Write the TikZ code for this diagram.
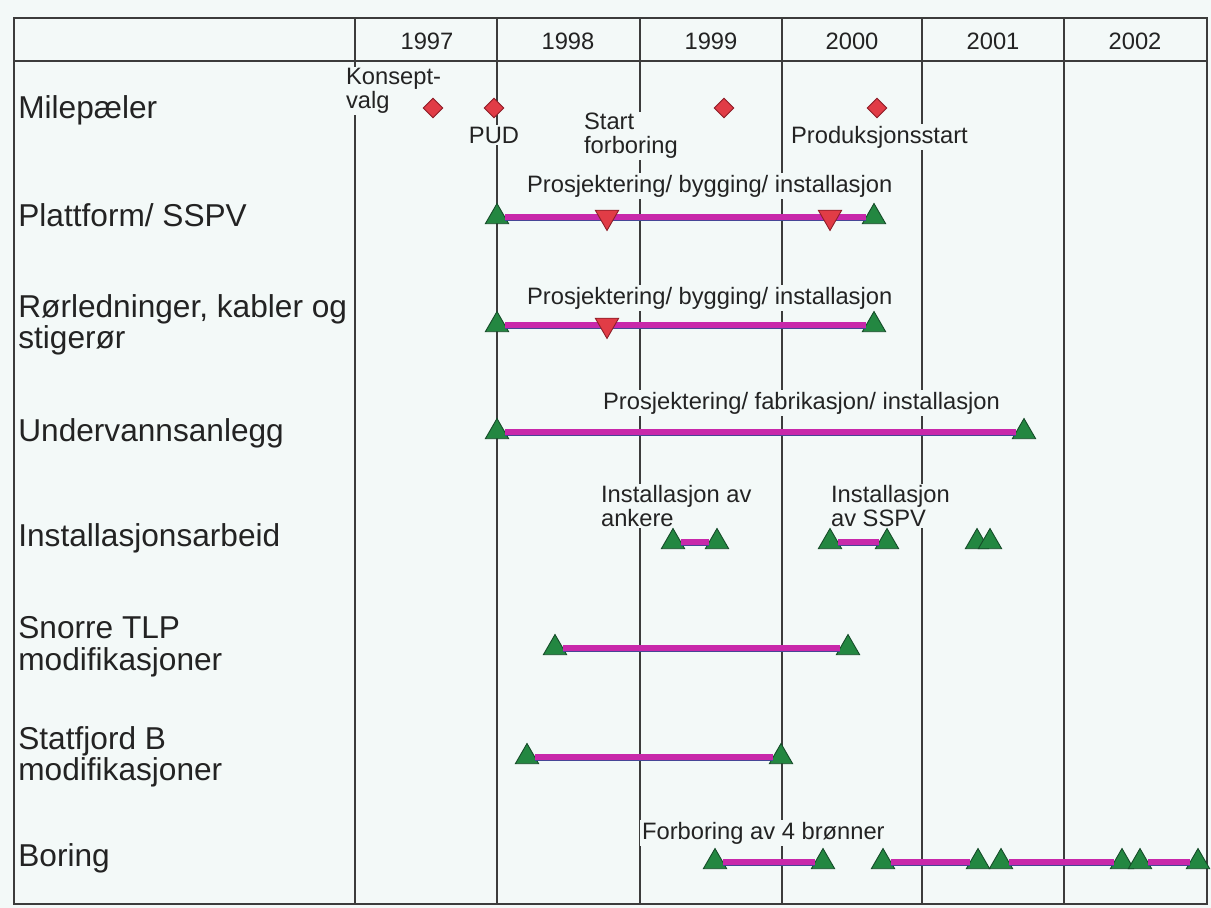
\documentclass[tikz,border=0pt]{standalone}
\usepackage{fontspec}
\setmainfont{Liberation Sans}
\usetikzlibrary{shapes.geometric}
\definecolor{papir}{RGB}{243,249,248}
\definecolor{linje}{RGB}{60,60,60}
\definecolor{tekst}{RGB}{35,35,35}
\definecolor{gronn}{RGB}{35,135,65}
\definecolor{gronnmork}{RGB}{20,75,40}
\definecolor{roed}{RGB}{225,60,70}
\definecolor{roedmork}{RGB}{140,30,40}
\definecolor{lilla}{RGB}{200,40,170}
\definecolor{skygge}{RGB}{70,70,150}

\begin{document}
\begin{tikzpicture}[x=0.02cm, y=-0.02cm,
		ramme/.style={draw=linje, line width=0.8pt},
		rad/.style={anchor=west, align=left, inner sep=0pt, text=tekst, font=\fontsize{18}{18}\selectfont},
		liten/.style={inner sep=1pt, fill=papir, text=tekst, font=\fontsize{13.5}{13.5}\selectfont},
		opp/.style={regular polygon, regular polygon sides=3, minimum size=0.54cm, inner sep=0pt, draw=gronnmork, fill=gronn, line width=0.5pt},
		ned/.style={opp, shape border rotate=180, draw=roedmork, fill=roed},
		mile/.style={diamond, minimum width=0.4cm, minimum height=0.4cm, inner sep=0pt, draw=roedmork, fill=roed, line width=0.5pt},
		aktivitet/.style={draw=lilla, line width=3pt, preaction={draw=skygge, line width=1pt, transform canvas={yshift=-1.6pt}}}]
		\fill[papir] (0,0) rectangle (1211,908);
		\draw[ramme] (14,18) rectangle (1207,904);
		\draw[ramme] (14,61) -- (1207,61);
		\foreach \x in {355,497,640,782,922,1064}
			\draw[ramme] (\x,18) -- (\x,904);
		\foreach \aar/\x in {1997/427,1998/568,1999/711,2000/852,2001/993,2002/1135}
			\node[liten] (aar\aar) at (\x,41) {\aar};
		\node[rad] (milepaeler) at (18,110) {Milepæler};
		\node[rad] (plattform) at (18,215) {Plattform/ SSPV};
		\node[rad] (rorledninger) at (18,325) {Rørledninger, kabler og\\stigerør};
		\node[rad] (undervann) at (18,433) {Undervannsanlegg};
		\node[rad] (installasjon) at (18,538) {Installasjonsarbeid};
		\node[rad] (snorre) at (18,647) {Snorre TLP\\modifikasjoner};
		\node[rad] (statfjord) at (18,757) {Statfjord B\\modifikasjoner};
		\node[rad] (boring) at (18,858) {Boring};
		\node[liten, anchor=west, align=left] (konseptlinha) at (344,91) {Konsept-\\valg};
		\node[mile] (konsept) at (433,108) {};
		\node[mile] (pud) at (494,108) {};
		\node[liten] (pudlinha) at (494,135) {PUD};
		\node[mile] (startforb) at (724,108) {};
		\node[liten, anchor=west, align=left] (startforblinha) at (582,136) {Start\\forboring};
		\node[mile] (prodstart) at (877,108) {};
		\node[liten, anchor=west] (prodstartlinha) at (789,137) {Produksjonsstart};
		\node[liten, anchor=west] (platlinha) at (525,186) {Prosjektering/ bygging/ installasjon};
		\node[opp] (plat1) at (497,217) {};
		\node[opp] (plat2) at (874,217) {};
		\draw[aktivitet] (plat1) -- (plat2);
		\node[ned] (plat3) at (607,217) {};
		\node[ned] (plat4) at (830,217) {};
		\node[liten, anchor=west] (rorlinha) at (525,298) {Prosjektering/ bygging/ installasjon};
		\node[opp] (ror1) at (497,325) {};
		\node[opp] (ror2) at (874,325) {};
		\draw[aktivitet] (ror1) -- (ror2);
		\node[ned] (ror3) at (607,325) {};
		\node[liten, anchor=west] (uvlinha) at (601,403) {Prosjektering/ fabrikasjon/ installasjon};
		\node[opp] (uv1) at (497,432) {};
		\node[opp] (uv2) at (1024,432) {};
		\draw[aktivitet] (uv1) -- (uv2);
		\node[liten, anchor=west, align=left] (ankerlinha) at (599,506) {Installasjon av\\ankere};
		\node[liten, anchor=west, align=left] (sspvlinha) at (829,506) {Installasjon\\av SSPV};
		\node[opp] (inst1) at (673,542) {};
		\node[opp] (inst2) at (717,542) {};
		\node[opp] (inst3) at (830,542) {};
		\node[opp] (inst4) at (887,542) {};
		\node[opp] (inst5) at (977,542) {};
		\node[opp] (inst6) at (990,542) {};
		\draw[aktivitet] (inst1) -- (inst2);
		\draw[aktivitet] (inst3) -- (inst4);
		\node[opp] (sno1) at (555,648) {};
		\node[opp] (sno2) at (848,648) {};
		\draw[aktivitet] (sno1) -- (sno2);
		\node[opp] (stf1) at (527,757) {};
		\node[opp] (stf2) at (781,757) {};
		\draw[aktivitet] (stf1) -- (stf2);
		\node[liten, anchor=west] (borlinha) at (640,833) {Forboring av 4 brønner};
		\node[opp] (bor1) at (715,862) {};
		\node[opp] (bor2) at (823,862) {};
		\node[opp] (bor3) at (883,862) {};
		\node[opp] (bor4) at (978,862) {};
		\node[opp] (bor5) at (1001,862) {};
		\node[opp] (bor6) at (1122,862) {};
		\node[opp] (bor7) at (1140,862) {};
		\node[opp] (bor8) at (1198,862) {};
		\draw[aktivitet] (bor1) -- (bor2);
		\draw[aktivitet] (bor3) -- (bor4);
		\draw[aktivitet] (bor5) -- (bor6);
		\draw[aktivitet] (bor7) -- (bor8);
		\end{tikzpicture}
\end{document}
